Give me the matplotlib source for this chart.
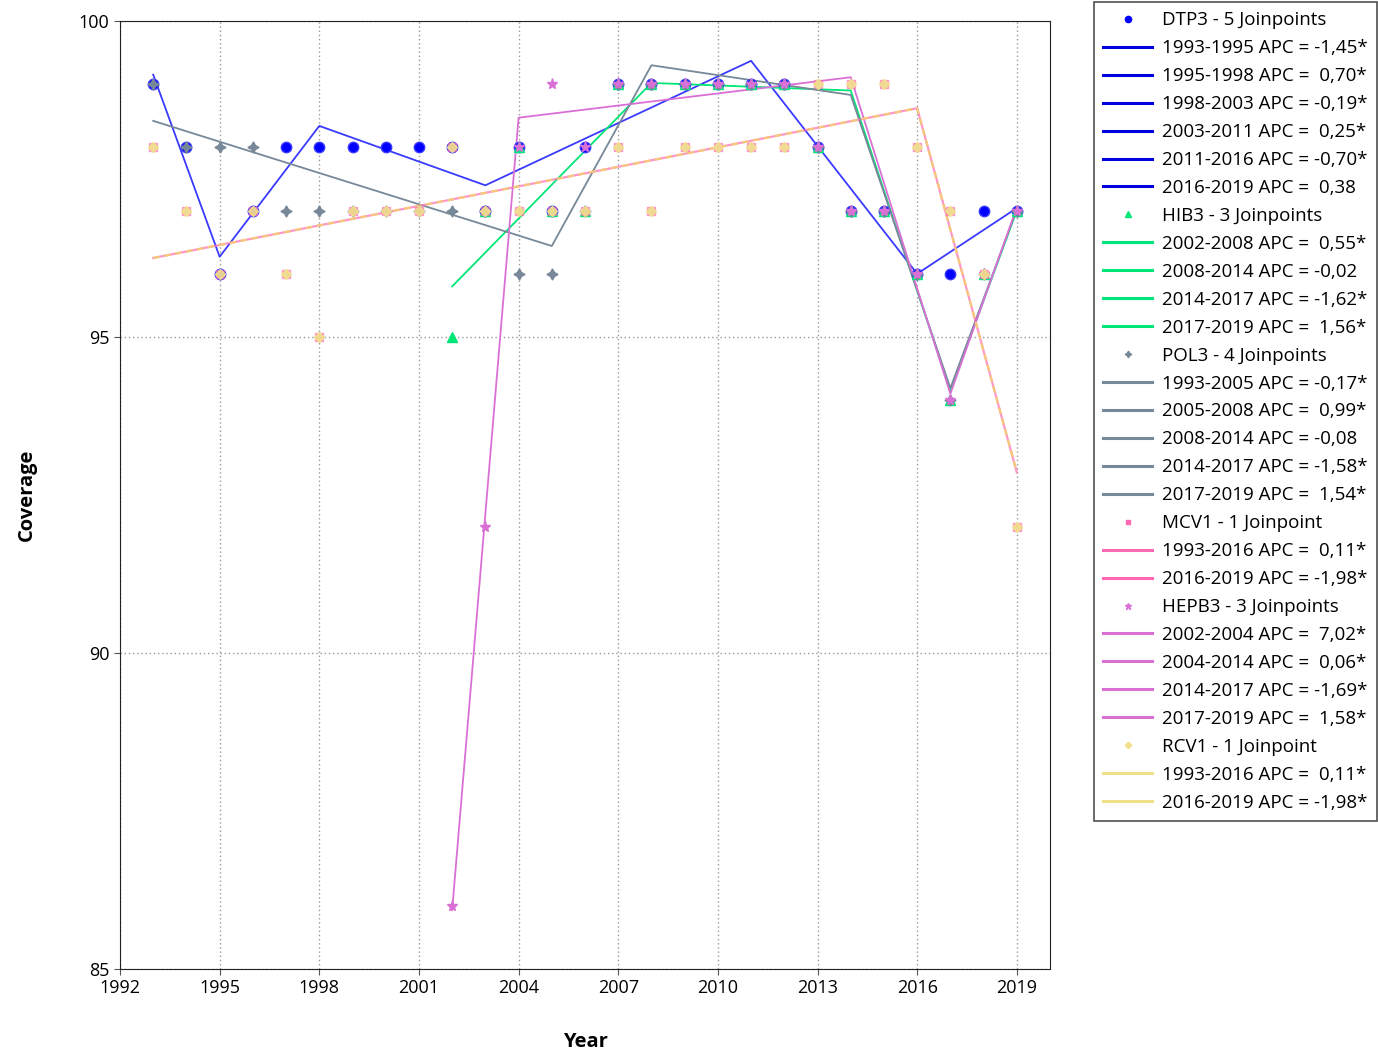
import matplotlib
matplotlib.use("Agg")
import matplotlib.pyplot as plt
from matplotlib.lines import Line2D

plt.rcParams['font.family'] = ['Open Sans', 'DejaVu Sans']

# ---------- observed coverage ----------
years = list(range(1993, 2020))
dtp3 = [99, 98, 96, 97, 98, 98, 98, 98, 98, 98, 97, 98, 97, 98,
        99, 99, 99, 99, 99, 99, 98, 97, 97, 96, 96, 97, 97]
hib3_years = list(range(2002, 2020))
hib3 = [95, 97, 98, 97, 97, 99, 99, 99, 99, 99, 99, 98, 97, 97, 96, 94, 96, 97]
pol3 = [99, 98, 98, 98, 97, 97, 97, 97, 97, 97, 97, 96, 96, 97,
        99, 99, 99, 99, 99, 99, 98, 97, 97, 96, 94, 96, 97]
mcv1 = [98, 97, 96, 97, 96, 95, 97, 97, 97, 98, 97, 97, 97, 97,
        98, 97, 98, 98, 98, 98, 99, 99, 99, 98, 97, 96, 92]
hepb3_years = list(range(2002, 2020))
hepb3 = [86, 92, 98, 99, 98, 99, 99, 99, 99, 99, 99, 98, 97, 97, 96, 94, 96, 97]
rcv1 = mcv1

# ---------- joinpoint fits ----------
dtp3_jp = [1993, 1995, 1998, 2003, 2011, 2016, 2019]
dtp3_fit = [99.15, 96.27, 98.34, 97.40, 99.37, 96.00, 97.04]
hib3_jp = [2002, 2008, 2014, 2017, 2019]
hib3_fit = [95.80, 99.02, 98.90, 94.15, 97.00]
pol3_jp = [1993, 2005, 2008, 2014, 2017, 2019]
pol3_fit = [98.42, 96.44, 99.30, 98.83, 94.19, 97.02]
mcv1_jp = [1993, 2016, 2019]
mcv1_fit = [96.25, 98.62, 92.86]
hepb3_jp = [2002, 2004, 2014, 2017, 2019]
hepb3_fit = [85.93, 98.47, 99.11, 94.10, 97.05]
rcv1_jp = mcv1_jp
rcv1_fit = mcv1_fit

legend_rows = [
    ("DTP3 - 5 Joinpoints", ["1993-1995 APC = -1,45*", "1995-1998 APC =  0,70*",
                             "1998-2003 APC = -0,19*", "2003-2011 APC =  0,25*",
                             "2011-2016 APC = -0,70*", "2016-2019 APC =  0,38"]),
    ("HIB3 - 3 Joinpoints", ["2002-2008 APC =  0,55*", "2008-2014 APC = -0,02",
                             "2014-2017 APC = -1,62*", "2017-2019 APC =  1,56*"]),
    ("POL3 - 4 Joinpoints", ["1993-2005 APC = -0,17*", "2005-2008 APC =  0,99*",
                             "2008-2014 APC = -0,08", "2014-2017 APC = -1,58*",
                             "2017-2019 APC =  1,54*"]),
    ("MCV1 - 1 Joinpoint", ["1993-2016 APC =  0,11*", "2016-2019 APC = -1,98*"]),
    ("HEPB3 - 3 Joinpoints", ["2002-2004 APC =  7,02*", "2004-2014 APC =  0,06*",
                              "2014-2017 APC = -1,69*", "2017-2019 APC =  1,58*"]),
    ("RCV1 - 1 Joinpoint", ["1993-2016 APC =  0,11*", "2016-2019 APC = -1,98*"]),
]

# colours / markers per series
c_dtp3, c_hib3, c_pol3 = "#0000ff", "#00e676", "#778899"
c_mcv1, c_hepb3, c_rcv1 = "#ff69b4", "#da70d6", "#f0e08c"
styles = [
    (c_dtp3, "o", "#0000dd", 7.5),
    (c_hib3, "^", c_hib3, 7),
    (c_pol3, (4, 1, 0), c_pol3, 8),
    (c_mcv1, "s", c_mcv1, 6),
    (c_hepb3, "*", c_hepb3, 8),
    (c_rcv1, "D", "#efe08a", 5.5),
]

fig = plt.figure(figsize=(13.78, 10.54), dpi=100)
ax = fig.add_axes([120 / 1378, 85 / 1054, 930 / 1378, 948 / 1054])

# fitted lines
ax.plot(dtp3_jp, dtp3_fit, color="#3a3aff", lw=1.3, zorder=3)
ax.plot(hib3_jp, hib3_fit, color=c_hib3, lw=1.3, zorder=3)
ax.plot(pol3_jp, pol3_fit, color=c_pol3, lw=1.3, zorder=3)
ax.plot(mcv1_jp, mcv1_fit, color=c_mcv1, lw=1.6, alpha=0.7, zorder=3)
ax.plot(hepb3_jp, hepb3_fit, color=c_hepb3, lw=1.3, zorder=3)
ax.plot(rcv1_jp, rcv1_fit, color="#f5c87a", lw=1.6, ls=(0, (3, 2)), zorder=3)

# observed points
ax.plot(years, dtp3, "o", color=c_dtp3, ms=7.5, mec="#3a3aff", zorder=4)
ax.plot(hib3_years, hib3, "^", color=c_hib3, ms=7, zorder=4)
ax.plot(years, pol3, marker=(4, 1, 0), ls="none", color=c_pol3, ms=8, zorder=4)
ax.plot(years, mcv1, "s", color=c_mcv1, ms=6, alpha=0.6, zorder=4)
ax.plot(hepb3_years, hepb3, "*", color=c_hepb3, ms=8, zorder=4)
ax.plot(years, rcv1, "D", color=c_rcv1, ms=5.5, alpha=0.9, zorder=4)

ax.set_xlim(1992, 2020)
ax.set_ylim(85, 100)
ax.set_xticks(range(1992, 2020, 3))
ax.set_yticks([85, 90, 95, 100])
ax.grid(True, color="#999999", ls=(0, (1, 2)), lw=1)
ax.tick_params(labelsize=13, length=4, color="#555555")
ax.set_xlabel("Year", fontsize=14.5, fontweight="bold", labelpad=25)
ax.set_ylabel("Coverage", fontsize=14.5, fontweight="bold", labelpad=30)
for s in ax.spines.values():
    s.set_color("#222222")

# legend
handles, labels = [], []
for (header, segs), (col, mk, lcol, ms) in zip(legend_rows, styles):
    handles.append(Line2D([], [], ls="none", marker=mk, color=col, ms=ms * 0.6))
    labels.append(header)
    for s in segs:
        handles.append(Line2D([], [], color=lcol, lw=2.2))
        labels.append(s)
leg = fig.legend(handles, labels, loc="upper left",
                 bbox_to_anchor=(1094 / 1378, 1 - 2 / 1054),
                 fontsize=13.5, frameon=True, fancybox=False, handlelength=2.6,
                 labelspacing=0.53, borderpad=0.5, handletextpad=0.5,
                 borderaxespad=0)
leg.get_frame().set_edgecolor("#222222")
leg.get_frame().set_linewidth(1.2)

fig.savefig("out.png", dpi=100)
